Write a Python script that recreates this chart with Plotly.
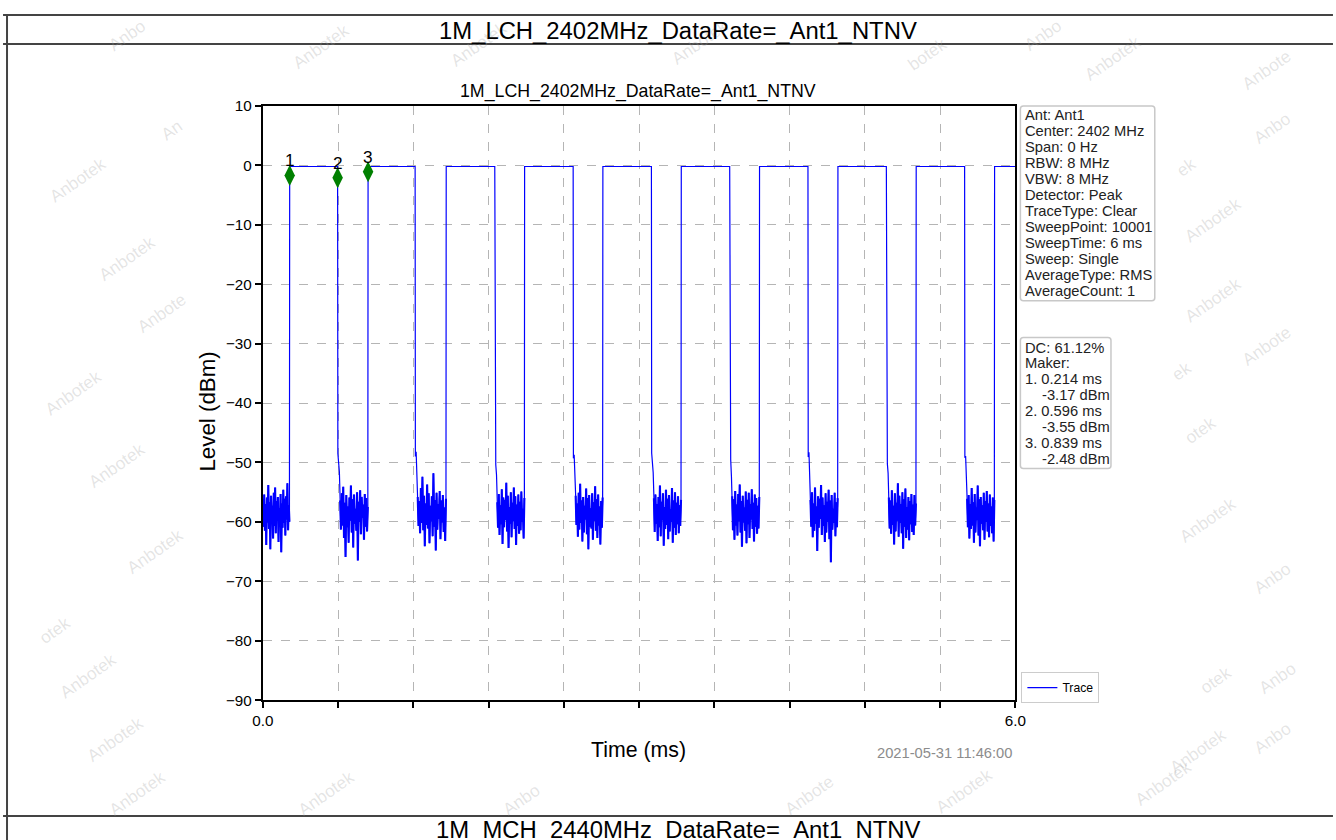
import plotly.graph_objects as go

# The photographed page is shown shrunk into an 8px frame; positions below are
# given in reference-picture pixels and mapped through that frame.
FIG_W, FIG_H = 1336, 840
OFF = 8
VIS_W, VIS_H = FIG_W - 2 * OFF, FIG_H - 2 * OFF
FS = 1.015  # font compensation for the shrink

# ---------------- data ----------------
table_title = "1M_LCH_2402MHz_DataRate=_Ant1_NTNV"
next_table_title = "1M_MCH_2440MHz_DataRate=_Ant1_NTNV"
plot_title = "1M_LCH_2402MHz_DataRate=_Ant1_NTNV"
timestamp = "2021-05-31 11:46:00"

pulse_start_ms = [0.214, 0.839, 1.462, 2.087, 2.711, 3.336, 3.960, 4.585, 5.209, 5.834]
pulse_end_ms = [0.596, 1.214, 1.849, 2.474, 3.098, 3.722, 4.346, 4.971, 5.595, 6.000]
on_level_dbm = -0.2

gap0 = [-56.2, -60.8, -55.4, -61.5, -57.0, -63.9, -55.9, -60.1, -53.8, -61.2, -56.7, -64.6, -55.6, -59.4, -57.3, -62.8, -55.1, -60.7, -54.2, -61.9,
        -56.5, -59.8, -55.8, -63.4, -57.7, -60.4, -55.3, -65.1, -56.9, -61.0, -54.6, -60.2, -56.1, -62.3, -55.7, -59.6, -53.5, -61.4, -57.2, -60.0]
gap1 = [-48.5, -49.8, -51.6, -56.4, -61.3, -55.2, -60.6, -54.1, -62.7, -56.8, -65.9, -55.5, -60.9, -57.4, -63.5, -55.9, -59.8, -53.9, -61.8, -56.2,
        -64.3, -55.4, -60.3, -57.8, -61.5, -55.0, -66.5, -56.6, -60.0, -54.7, -62.1, -55.8, -59.3, -57.1, -63.0, -55.3, -60.8, -56.0, -61.6, -57.5]
gap2 = [-49.0, -48.2, -51.9, -55.8, -60.7, -56.5, -61.9, -54.3, -60.2, -52.4, -61.4, -55.6, -64.1, -56.9, -60.5, -53.7, -61.1, -55.2, -63.6, -57.3,
        -59.9, -55.7, -62.4, -51.8, -60.8, -56.3, -64.8, -55.1, -61.3, -57.0, -59.5, -54.8, -62.9, -56.4, -60.1, -55.5, -61.7, -57.6, -63.2, -56.1]
gap3 = [-48.9, -50.4, -52.1, -56.7, -61.0, -55.3, -62.2, -57.2, -60.4, -54.5, -63.7, -55.9, -60.9, -56.3, -59.7, -53.4, -61.6, -55.6, -64.4, -57.5,
        -60.3, -55.0, -62.6, -56.8, -59.9, -54.2, -61.2, -55.7, -63.9, -57.1, -60.7, -55.4, -62.0, -56.6, -61.4, -54.9, -60.0, -57.8, -62.8, -56.0]
gap4 = [-49.3, -48.7, -51.2, -55.6, -60.5, -56.9, -62.5, -55.1, -61.3, -53.6, -60.2, -56.4, -63.3, -55.8, -61.8, -57.3, -59.6, -54.4, -62.1, -56.0,
        -64.6, -55.5, -60.8, -57.7, -61.1, -55.2, -63.0, -56.7, -59.8, -54.0, -61.5, -56.2, -62.7, -55.4, -60.6, -57.4, -63.8, -56.5, -61.0, -55.9]
gap5 = [-48.4, -50.1, -51.7, -56.0, -61.7, -55.4, -60.3, -57.0, -63.2, -55.8, -60.9, -53.9, -62.4, -56.6, -59.7, -55.2, -64.0, -57.5, -61.2, -54.6,
        -60.5, -56.1, -62.9, -55.5, -61.6, -57.9, -60.0, -54.3, -63.5, -56.4, -61.0, -55.0, -62.2, -56.8, -60.4, -55.7, -61.9, -57.2, -60.7, -56.3]
gap6 = [-48.8, -49.5, -52.4, -55.7, -61.4, -56.2, -63.0, -54.8, -60.6, -57.1, -62.3, -55.3, -59.9, -53.7, -61.8, -56.5, -64.2, -55.6, -60.1, -57.6,
        -61.5, -54.9, -63.6, -56.3, -60.4, -55.1, -62.7, -57.0, -59.6, -54.5, -61.2, -56.8, -63.3, -55.4, -60.8, -56.0, -62.0, -57.3, -61.1, -55.8]
gap7 = [-49.1, -48.3, -51.5, -56.3, -60.8, -55.0, -62.6, -56.9, -61.5, -54.2, -60.3, -57.4, -64.9, -55.7, -61.0, -56.1, -59.5, -53.8, -62.2, -55.9,
        -60.7, -57.2, -63.4, -55.2, -61.8, -56.6, -60.0, -54.6, -62.9, -56.4, -66.8, -55.5, -61.3, -57.8, -60.2, -55.1, -62.4, -56.7, -60.9, -56.0]
gap8 = [-48.6, -50.2, -51.8, -55.9, -61.1, -56.4, -62.0, -54.7, -60.5, -57.3, -63.8, -55.2, -61.6, -56.8, -59.8, -53.5, -62.5, -55.6, -60.2, -57.0,
        -61.9, -55.0, -64.5, -56.2, -60.8, -54.4, -62.7, -57.5, -61.3, -55.8, -63.1, -56.5, -60.4, -55.3, -61.7, -57.1, -62.2, -55.5, -60.6, -56.9]
gap9 = [-49.2, -48.9, -51.4, -56.1, -60.9, -55.5, -62.8, -57.0, -61.2, -54.3, -60.6, -56.7, -63.5, -55.3, -61.8, -57.6, -59.7, -53.9, -62.3, -56.2,
        -64.1, -55.8, -60.3, -57.2, -61.4, -55.1, -63.0, -56.5, -60.0, -54.8, -61.6, -56.9, -62.6, -55.4, -60.7, -57.4, -61.9, -55.9, -63.3, -56.3]
gap_noise_dbm = [gap0, gap1, gap2, gap3, gap4, gap5, gap6, gap7, gap8, gap9]

marker_labels = ["1", "2", "3"]
marker_time_ms = [0.214, 0.596, 0.839]
marker_plot_dbm = [-1.7, -2.1, -1.1]
marker_read_dbm = [-3.17, -3.55, -2.48]
duty_cycle = "61.12%"

info_lines = ["Ant: Ant1", "Center: 2402 MHz", "Span: 0 Hz", "RBW: 8 MHz", "VBW: 8 MHz",
              "Detector: Peak", "TraceType: Clear", "SweepPoint: 10001", "SweepTime: 6 ms",
              "Sweep: Single", "AverageType: RMS", "AverageCount: 1"]

x_tick_vals = [0.0, 0.6, 1.2, 1.8, 2.4, 3.0, 3.6, 4.2, 4.8, 5.4, 6.0]
x_tick_text = ["0.0", "", "", "", "", "", "", "", "", "", "6.0"]
y_tick_vals = [-90, -80, -70, -60, -50, -40, -30, -20, -10, 0, 10]

watermark_pos = [  # (x px, y px, text) in the reference picture
    (100, 12, "Anbo"), (285, 16, "Anbotek"), (478, 14, "Anbotek"), (700, 12, "Anbotek"),
    (955, 30, "botek"), (1070, 12, "Anbo"), (1150, 28, "Anbotek"), (1300, 42, "Anbote"),
    (40, 150, "Anbotek"), (90, 228, "Anbotek"), (128, 312, "Anbote"), (152, 112, "An"),
    (35, 392, "Anbotek"), (80, 465, "Anbotek"), (118, 580, "Anbotek"),
    (30, 650, "otek"), (50, 705, "Anbotek"), (78, 768, "Anbotek"),
    (1205, 150, "ek"), (1250, 190, "Anbotek"), (1300, 105, "Anbo"), (1250, 270, "Anbotek"),
    (1300, 345, "Anbote"), (1200, 370, "ek"), (1225, 430, "otek"), (1245, 520, "Anbotek"),
    (1300, 600, "Anbo"), (1240, 700, "otek"), (1305, 700, "Anbo"), (1235, 780, "Anbotek"),
    (100, 822, "Anbotek"), (290, 822, "Anbotek"), (520, 822, "Anbo"), (810, 822, "Anbote"),
    (1000, 820, "Anbotek"), (1200, 812, "Anbotek"), (1300, 760, "Anbo"),
]

# ---------------- helpers: reference pixel -> paper fraction ----------------
def px(x):
    return (x - OFF) / VIS_W

def py(y):
    return 1 - (y - OFF) / VIS_H

def f(s):
    return s * FS

# ---------------- trace construction ----------------
xs, ys = [], []          # full sweep
nx, ny = [], []          # noise floor segments (drawn heavier, as the dense sweep looks)
for k, vals in enumerate(gap_noise_dbm):
    g_start = 0.0 if k == 0 else pulse_end_ms[k - 1] + 0.002
    g_end = pulse_start_ms[k] - 0.002
    n = len(vals)
    for i, v in enumerate(vals):
        t = g_start + (g_end - g_start) * i / (n - 1)
        xs.append(t); ys.append(v)
        if k == 0 or i >= 3:
            nx.append(t); ny.append(v)
    nx.append(None); ny.append(None)
    xs += [pulse_start_ms[k], pulse_end_ms[k]]
    ys += [on_level_dbm, on_level_dbm]

fig = go.Figure()
fig.add_trace(go.Scatter(x=xs, y=ys, mode="lines", name="Trace",
                         line=dict(color="#0000ff", width=1.2), showlegend=True))
fig.add_trace(go.Scatter(x=nx, y=ny, mode="lines", name="Trace", showlegend=False,
                         line=dict(color="#0000ff", width=2.1), hoverinfo="skip"))
fig.add_trace(go.Scatter(x=marker_time_ms, y=marker_plot_dbm, mode="markers",
                         marker=dict(symbol="diamond-tall", size=15, color="#008000",
                                     line=dict(width=0)), showlegend=False))

annotations = []
shapes = []

for lab, t, v in zip(marker_labels, marker_time_ms, marker_plot_dbm):
    annotations.append(dict(x=t, y=v, xref="x", yref="y", text=lab, showarrow=False,
                            yshift=15, font=dict(size=f(17), color="black")))

for (wx, wy, wt) in watermark_pos:
    annotations.append(dict(x=px(wx), y=py(wy), xref="paper", yref="paper", text=wt,
                            showarrow=False, textangle=-35,
                            font=dict(size=f(17), color="rgba(160,160,160,0.28)",
                                      family="Liberation Sans")))

line_col = "#444444"
shapes += [
    dict(type="line", xref="paper", yref="paper", x0=px(0), x1=px(1336), y0=py(14), y1=py(14), line=dict(color=line_col, width=2)),
    dict(type="line", xref="paper", yref="paper", x0=px(0), x1=px(1336), y0=py(43), y1=py(43), line=dict(color=line_col, width=2)),
    dict(type="line", xref="paper", yref="paper", x0=px(0), x1=px(1336), y0=py(816), y1=py(816), line=dict(color=line_col, width=2)),
    dict(type="line", xref="paper", yref="paper", x0=px(4), x1=px(4), y0=py(14), y1=py(840), line=dict(color=line_col, width=2)),
]
annotations.append(dict(x=px(678), y=py(30), xref="paper", yref="paper", text=table_title,
                        showarrow=False, xanchor="center", yanchor="middle",
                        font=dict(size=f(23.5), color="black", family="Liberation Sans")))
annotations.append(dict(x=px(678), y=py(829), xref="paper", yref="paper", text=next_table_title,
                        showarrow=False, xanchor="center", yanchor="middle",
                        font=dict(size=f(23.5), color="black", family="Liberation Sans")))

annotations.append(dict(x=px(638), y=py(91), xref="paper", yref="paper", text=plot_title,
                        showarrow=False, xanchor="center", yanchor="middle",
                        font=dict(size=f(17.5), color="black")))
annotations.append(dict(x=px(638), y=py(750), xref="paper", yref="paper", text="Time (ms)",
                        showarrow=False, xanchor="center", yanchor="middle",
                        font=dict(size=f(21), color="black")))
annotations.append(dict(x=px(205), y=py(411), xref="paper", yref="paper", text="Level (dBm)",
                        showarrow=False, xanchor="center", yanchor="middle", textangle=-90,
                        font=dict(size=f(22), color="black")))
annotations.append(dict(x=px(1016), y=py(753), xref="paper", yref="paper", text=timestamp,
                        showarrow=False, xanchor="right", yanchor="middle",
                        font=dict(size=f(14.5), color="#8c8c8c")))

def rrect(x0, y0, x1, y1, r=3):
    X = lambda v: f"{px(v):.6f}"
    Y = lambda v: f"{py(v):.6f}"
    return (f"M {X(x0 + r)} {Y(y0)} L {X(x1 - r)} {Y(y0)} Q {X(x1)} {Y(y0)} {X(x1)} {Y(y0 + r)} "
            f"L {X(x1)} {Y(y1 - r)} Q {X(x1)} {Y(y1)} {X(x1 - r)} {Y(y1)} "
            f"L {X(x0 + r)} {Y(y1)} Q {X(x0)} {Y(y1)} {X(x0)} {Y(y1 - r)} "
            f"L {X(x0)} {Y(y0 + r)} Q {X(x0)} {Y(y0)} {X(x0 + r)} {Y(y0)} Z")

box_line = dict(color="#c8c8c8", width=1.5)
shapes.append(dict(type="path", xref="paper", yref="paper", path=rrect(1022, 105, 1157, 300),
                   line=box_line, fillcolor="white", layer="above"))
shapes.append(dict(type="path", xref="paper", yref="paper", path=rrect(1022, 337, 1113, 468),
                   line=box_line, fillcolor="white", layer="above"))

for i, t in enumerate(info_lines):
    annotations.append(dict(x=px(1025), y=py(114 + 16 * i), xref="paper", yref="paper", text=t,
                            showarrow=False, xanchor="left", yanchor="middle",
                            font=dict(size=f(14.5), color="#222222")))

box2 = [("DC: " + duty_cycle, 1025), ("Maker:", 1025)]
for lab, t, v in zip(marker_labels, marker_time_ms, marker_read_dbm):
    box2.append((f"{lab}. {t:.3f} ms", 1025))
    box2.append((f"{v:.2f} dBm", 1042))
for i, (t, xx) in enumerate(box2):
    annotations.append(dict(x=px(xx), y=py(347 + 15.9 * i), xref="paper", yref="paper", text=t,
                            showarrow=False, xanchor="left", yanchor="middle",
                            font=dict(size=f(14.5), color="#222222")))

fig.update_layout(
    width=FIG_W, height=FIG_H, autosize=False,
    margin=dict(l=0, r=0, t=0, b=0),
    paper_bgcolor="white", plot_bgcolor="white",
    font=dict(family="Liberation Sans, Arial, sans-serif", color="black"),
    showlegend=True,
    legend=dict(x=px(1023), y=py(672), xanchor="left", yanchor="top",
                bordercolor="#cccccc", borderwidth=1, bgcolor="white",
                font=dict(size=f(12)), itemwidth=30, tracegroupgap=0),
    xaxis=dict(domain=[px(261), px(1017)], range=[0, 6], tickvals=x_tick_vals, ticktext=x_tick_text,
               showgrid=True, gridcolor="#b5b5b5", griddash="dash", gridwidth=0.8,
               showline=True, linecolor="black", linewidth=2, mirror=True,
               ticks="outside", ticklen=6, tickwidth=1.5, tickcolor="black",
               tickfont=dict(size=f(15)), zeroline=False, fixedrange=True),
    yaxis=dict(domain=[py(700), py(105)], range=[-90, 10], tickvals=y_tick_vals,
               showgrid=True, gridcolor="#b5b5b5", griddash="dash", gridwidth=0.8,
               showline=True, linecolor="black", linewidth=2, mirror=True,
               ticks="outside", ticklen=6, tickwidth=1.5, tickcolor="black",
               tickfont=dict(size=f(15)), zeroline=False, fixedrange=True),
    annotations=annotations,
    shapes=shapes,
)

post = ("document.body.style.margin='0';document.body.style.padding='0';"
        "document.body.style.overflow='hidden';")
fig.write_html("out.html", config={"displayModeBar": False, "responsive": False},
               default_width="1336px", default_height="840px", post_script=post)
